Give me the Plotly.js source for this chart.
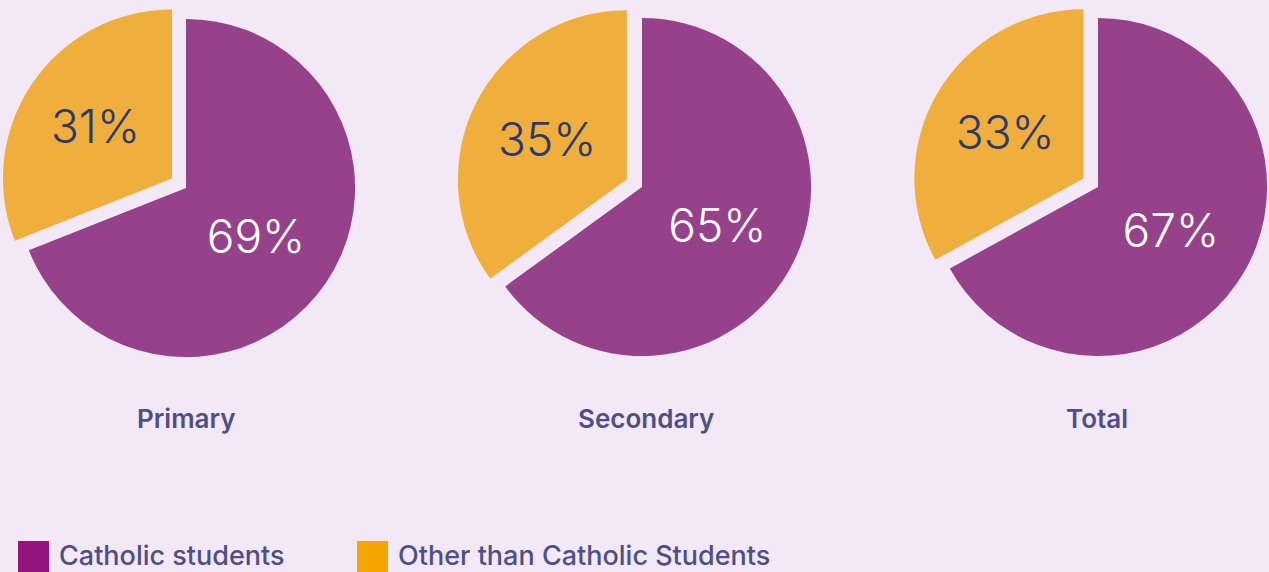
<!DOCTYPE html>
<html>
<head>
<meta charset="utf-8">
<script src="https://cdn.plot.ly/plotly-3.0.1.min.js"></script>
<style>
  html, body { margin: 0; padding: 0; overflow: hidden; background: #f3e8f5; }
  #chart { width: 1300px; height: 572px; }
</style>
</head>
<body>
<div id="chart"></div>
<script>
// ---- data ----
const groups = ["Primary", "Secondary", "Total"];
const seriesLabels = ["Catholic students", "Other than Catholic Students"];
const catholic = [69, 65, 67];
const otherThanCatholic = [31, 35, 33];

// ---- styling ----
const W = 1300, H = 572;
const bg = "#f3e8f5";
const sliceColors = ["#95428b", "#f0ae3c"];
const legendColors = ["#951580", "#f6a500"];
const textColor = "#4f4f88";
const pctColors = ["#ffffff", "#2b3a6e"];
const font = "Inter";

// pie boxes in pixels (center x, center y), half-size of box
const centers = [[186, 188], [642, 187], [1098, 187]];
const titleX = [186, 646, 1097];
const half = 186;

const traces = groups.map((g, i) => {
  const [cx, cy] = centers[i];
  return {
    type: "pie",
    name: g,
    labels: seriesLabels,
    values: [catholic[i], otherThanCatholic[i]],
    sort: false,
    direction: "clockwise",
    rotation: 0,
    pull: [0, 0.1],
    marker: { colors: sliceColors, line: { width: 0 } },
    texttemplate: "%{value}%",
    textposition: "inside",
    insidetextorientation: "horizontal",
    textfont: { family: font, size: 46, weight: 300, color: pctColors },
    hoverinfo: "label+percent",
    showlegend: false,
    domain: {
      x: [Math.max(0, (cx - half) / W), Math.min(1, (cx + half) / W)],
      y: [(H - (cy + half)) / H, (H - (cy - half)) / H]
    }
  };
});

const annotations = groups.map((g, i) => ({
  xref: "paper", yref: "paper",
  x: titleX[i] / W, y: (H - 418) / H,
  xanchor: "center", yanchor: "middle",
  text: g, showarrow: false,
  font: { family: font, size: 26, weight: 600, color: textColor }
}));

const legendX = [18, 357];
const shapes = [];
seriesLabels.forEach((lab, k) => {
  shapes.push({
    type: "rect", xref: "paper", yref: "paper",
    x0: legendX[k] / W, x1: (legendX[k] + 31) / W,
    y0: (H - 580) / H, y1: (H - 541) / H,
    fillcolor: legendColors[k], line: { width: 0 }
  });
  annotations.push({
    xref: "paper", yref: "paper",
    x: (legendX[k] + 39) / W, y: (H - 555) / H,
    xanchor: "left", yanchor: "middle",
    text: lab, showarrow: false,
    font: { family: font, size: 27, weight: 500, color: textColor }
  });
});

Plotly.newPlot("chart", traces, {
  width: W, height: H,
  margin: { l: 0, r: 0, t: 0, b: 0 },
  paper_bgcolor: bg, plot_bgcolor: bg,
  showlegend: false,
  annotations: annotations,
  shapes: shapes
}, { displayModeBar: false, staticPlot: true });
</script>
</body>
</html>
